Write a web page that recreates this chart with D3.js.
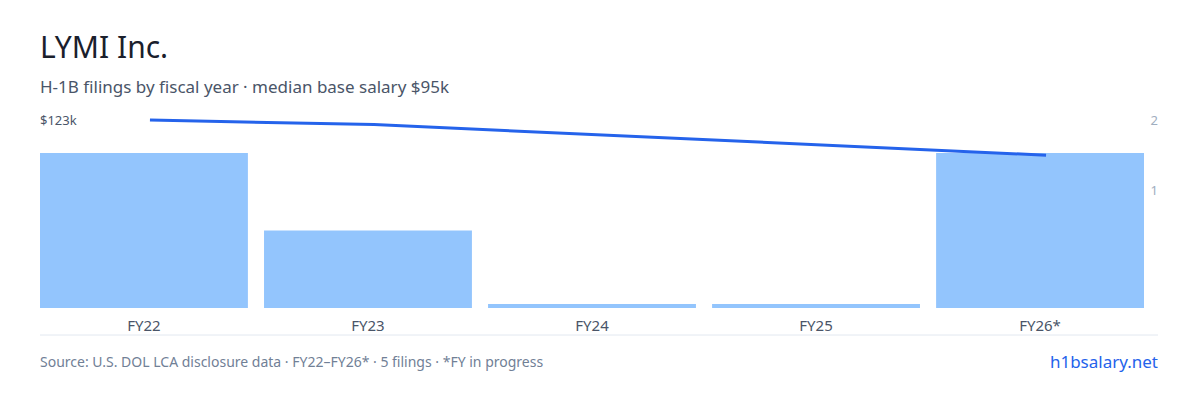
<!DOCTYPE html>
<html><head><meta charset="utf-8">
<script src="https://cdn.jsdelivr.net/npm/d3@7"></script>
<style>body{margin:0;background:#fff;font-family:"Noto Sans",sans-serif}</style>
</head><body><svg id="c" width="1200" height="400"></svg>
<script>
const categories=["FY22","FY23","FY24","FY25","FY26*"];
const filings=[2,1,0,0,2];
const salaries=[123,120,null,null,100];
const countTicks=[1,2];
const svg=d3.select("#c");
const x=d3.scaleBand().domain(categories).range([40,1144]).paddingInner(0.072).paddingOuter(0);
const y=d3.scaleLinear().domain([0,2]).range([308,153]);
const yAxisScale=d3.scaleLinear().domain([0,2]).range([260,120]);
const ys=d3.scaleLinear().domain([0,123]).range([308,120]);
svg.append("text").attr("x",40).attr("y",58).attr("font-size",30).attr("fill","#1a202c").text("LYMI Inc.");
svg.append("text").attr("x",40).attr("y",93).attr("font-size",17).attr("fill","#4a5568").text("H-1B filings by fiscal year · median base salary $95k");
svg.append("text").attr("x",40).attr("y",125).attr("font-size",13).attr("fill","#4a5568").text("$"+d3.max(salaries)+"k");
svg.selectAll("rect.b").data(categories).join("rect").attr("x",d=>x(d)).attr("width",x.bandwidth())
 .attr("y",(d,i)=>Math.min(y(filings[i]),y(0)-4)).attr("height",(d,i)=>Math.max(y(0)-y(filings[i]),4)).attr("fill","#93c5fd");
const pts=categories.map((c,i)=>[x(c)+x.bandwidth()/2+6,salaries[i]]).filter(p=>p[1]!=null);
svg.append("path").attr("d",d3.line().x(p=>p[0]).y(p=>ys(p[1]))(pts)).attr("fill","none").attr("stroke","#2563eb").attr("stroke-width",3);
svg.selectAll("text.r").data(countTicks).join("text").attr("x",1158).attr("y",d=>yAxisScale(d)+5).attr("text-anchor","end").attr("font-size",13).attr("fill","#a0aec0").text(d=>d);
svg.append("line").attr("x1",40).attr("x2",1158).attr("y1",335).attr("y2",335).attr("stroke","#e2e8f0");
svg.selectAll("text.x").data(categories).join("text").attr("x",d=>x(d)+x.bandwidth()/2).attr("y",331).attr("text-anchor","middle").attr("font-size",15).attr("fill","#4a5568").text(d=>d);
svg.append("text").attr("x",40).attr("y",367).attr("font-size",14).attr("fill","#718096").text("Source: U.S. DOL LCA disclosure data · FY22–FY26* · 5 filings · *FY in progress");
svg.append("text").attr("x",1158).attr("y",368).attr("text-anchor","end").attr("font-size",17).attr("fill","#2563eb").text("h1bsalary.net");
</script></body></html>
